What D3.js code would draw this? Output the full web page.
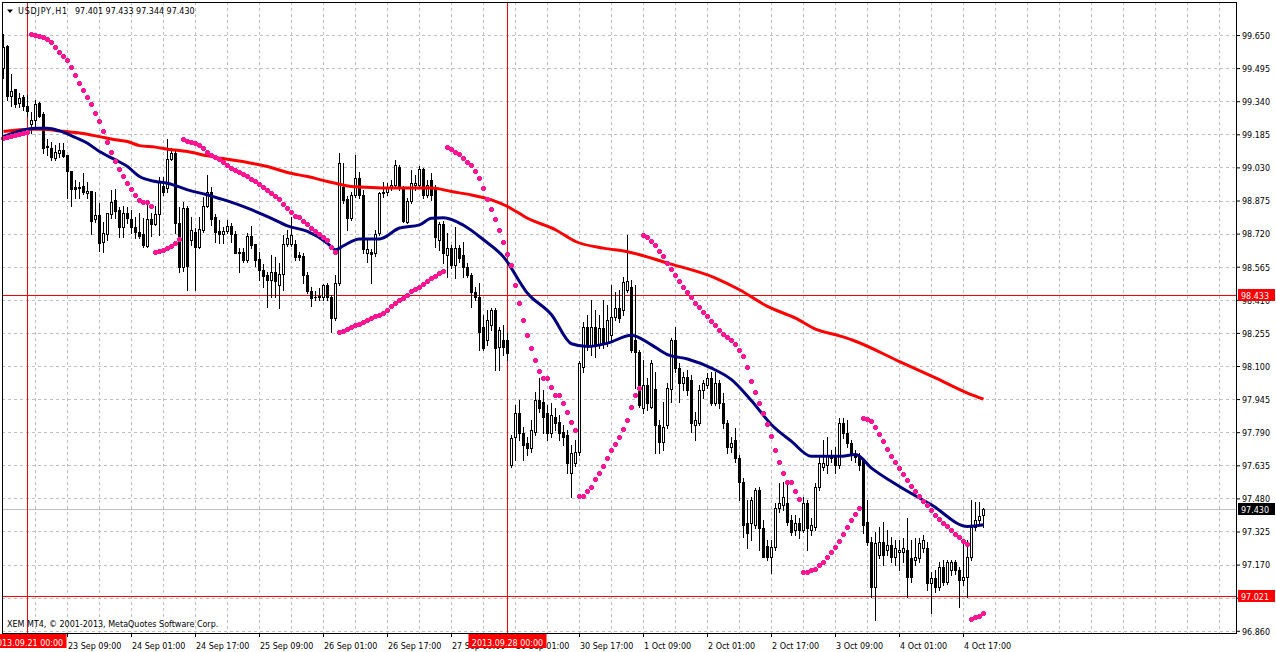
<!DOCTYPE html>
<html><head><meta charset="utf-8">
<script src="https://cdn.jsdelivr.net/npm/d3@7"></script>
<style>
html,body{margin:0;padding:0;background:#fff;}
svg{display:block;}
text{font-family:"DejaVu Sans",sans-serif;font-size:8px;}
</style></head><body>
<svg id="c" width="1276" height="652"></svg>
<script>
const symbolTitle = "USDJPY,H1";
const lastQuote = "97.401 97.433 97.344 97.430";
const copyright = "XEM MT4, \u00A9 2001-2013, MetaQuotes Software Corp.";
const priceTicks = [99.650,99.495,99.340,99.185,99.030,98.875,98.720,98.565,98.410,98.255,98.100,97.945,97.790,97.635,97.480,97.325,97.170,97.015,96.860];
const timeTicks = [[16,"23 Sep 09:00"],[32,"24 Sep 01:00"],[48,"24 Sep 17:00"],[64,"25 Sep 09:00"],[80,"26 Sep 01:00"],[96,"26 Sep 17:00"],[112,"27 Sep 09:00"],[128,"30 Sep 01:00"],[144,"30 Sep 17:00"],[160,"1 Oct 09:00"],[176,"2 Oct 01:00"],[192,"2 Oct 17:00"],[208,"3 Oct 09:00"],[224,"4 Oct 01:00"],[240,"4 Oct 17:00"]];
const separators = [[6,"2013.09.21 00:00"],[126,"2013.09.28 00:00"]];
const hLines = [98.433, 97.021];
const bidPrice = 97.430;

// [open, high, low, close] per H1 bar
const ohlc = [
[99.494,99.653,99.447,99.595],[99.600,99.605,99.346,99.366],[99.366,99.466,99.319,99.388],[99.396,99.396,99.314,99.328],[99.330,99.377,99.314,99.354],
[99.360,99.369,99.299,99.318],[99.318,99.369,99.272,99.294],[99.235,99.288,99.190,99.252],[99.252,99.346,99.213,99.326],[99.330,99.336,99.266,99.272],
[99.279,99.288,99.096,99.123],[99.131,99.162,99.088,99.126],[99.123,99.151,99.065,99.080],[99.076,99.135,99.065,99.104],[99.099,99.143,99.080,99.112],
[99.112,99.143,99.080,99.085],[99.088,99.088,98.889,99.015],[99.014,99.014,98.851,98.929],[98.939,98.971,98.886,98.929],[98.935,98.963,98.886,98.937],
[98.942,99.003,98.904,98.914],[98.909,98.963,98.886,98.921],[98.921,98.921,98.717,98.781],[98.789,98.917,98.776,98.808],[98.808,98.862,98.639,98.678],
[98.683,98.776,98.636,98.722],[98.717,98.816,98.691,98.816],[98.812,98.925,98.792,98.870],[98.878,98.929,98.792,98.828],[98.830,98.845,98.706,98.753],
[98.750,98.847,98.706,98.816],[98.818,98.844,98.769,98.792],[98.789,98.831,98.722,98.750],[98.750,98.800,98.699,98.727],[98.727,98.816,98.699,98.711],
[98.719,98.795,98.655,98.667],[98.664,98.854,98.659,98.789],[98.787,98.816,98.709,98.764],[98.764,98.847,98.761,98.811],[98.811,98.987,98.714,98.963],
[98.945,98.987,98.901,98.914],[98.934,99.162,98.916,99.068],[99.068,99.120,99.065,99.096],[99.098,99.112,98.722,98.770],[98.770,98.845,98.540,98.565],
[98.565,98.870,98.545,98.840],[98.840,98.850,98.457,98.569],[98.691,98.798,98.668,98.738],[98.729,98.747,98.457,98.659],[98.659,98.797,98.653,98.741],
[98.738,98.893,98.729,98.850],[98.850,98.995,98.845,98.917],[98.917,98.940,98.761,98.787],[98.797,98.812,98.683,98.729],[98.733,98.784,98.675,98.719],
[98.717,98.753,98.675,98.733],[98.733,98.784,98.722,98.756],[98.756,98.769,98.683,98.719],[98.719,98.733,98.628,98.631],[98.628,98.653,98.542,98.636],
[98.636,98.652,98.589,98.597],[98.597,98.722,98.588,98.709],[98.709,98.756,98.653,98.667],[98.672,98.672,98.566,98.597],[98.600,98.636,98.503,98.550],
[98.550,98.578,98.472,98.523],[98.527,98.542,98.376,98.503],[98.503,98.620,98.425,98.542],[98.542,98.612,98.425,98.499],[98.477,98.582,98.371,98.532],
[98.532,98.714,98.457,98.671],[98.671,98.738,98.663,98.699],[98.672,98.800,98.663,98.714],[98.672,98.691,98.597,98.612],[98.620,98.636,98.597,98.609],
[98.616,98.630,98.488,98.525],[98.525,98.541,98.441,98.449],[98.449,98.472,98.379,98.418],[98.424,98.453,98.410,98.421],[98.424,98.465,98.410,98.427],
[98.423,98.485,98.410,98.477],[98.480,98.488,98.410,98.423],[98.423,98.433,98.257,98.324],[98.324,98.527,98.317,98.488],[98.488,99.096,98.480,99.050],
[98.940,99.050,98.864,98.878],[98.881,98.897,98.738,98.795],[98.795,98.915,98.784,98.901],[98.901,99.088,98.892,98.979],[98.979,99.010,98.887,98.901],
[98.901,98.925,98.628,98.648],[98.628,98.691,98.589,98.648],[98.636,98.647,98.491,98.624],[98.628,98.738,98.616,98.719],[98.722,98.917,98.714,98.909],
[98.909,98.963,98.892,98.917],[98.917,98.956,98.901,98.940],[98.937,98.971,98.925,98.948],[98.948,99.065,98.939,99.041],[99.034,99.041,98.925,98.933],
[98.933,98.943,98.772,98.780],[98.776,98.887,98.769,98.873],[98.873,99.018,98.864,98.959],[98.948,98.995,98.925,98.956],[98.948,99.037,98.939,99.022],
[99.022,99.028,98.887,98.901],[98.901,98.971,98.892,98.948],[98.971,99.003,98.878,98.901],[98.933,98.948,98.659,98.706],[98.691,98.775,98.644,98.766],
[98.766,98.780,98.583,98.630],[98.621,98.724,98.518,98.653],[98.653,98.667,98.560,98.574],[98.574,98.752,98.513,98.653],[98.653,98.667,98.588,98.607],
[98.621,98.681,98.518,98.564],[98.564,98.583,98.518,98.527],[98.527,98.536,98.377,98.447],[98.447,98.471,98.410,98.424],[98.424,98.490,98.176,98.260],
[98.284,98.340,98.176,98.185],[98.223,98.363,98.199,98.316],[98.293,98.373,98.270,98.363],[98.363,98.373,98.082,98.185],[98.190,98.284,98.082,98.270],
[98.223,98.293,98.153,98.190],[98.223,98.256,98.129,98.162],[97.638,97.778,97.628,97.764],[97.769,97.919,97.661,97.881],[97.881,97.942,97.755,97.788],
[97.788,97.816,97.661,97.731],[97.741,97.769,97.685,97.717],[97.717,97.848,97.699,97.802],[97.792,97.979,97.778,97.942],[97.942,98.045,97.886,97.905],
[97.933,97.989,97.788,97.862],[97.881,97.919,97.755,97.788],[97.788,97.928,97.769,97.872],[97.862,97.905,97.802,97.834],[97.839,97.872,97.755,97.788],
[97.792,97.825,97.731,97.769],[97.778,97.802,97.600,97.647],[97.600,97.731,97.488,97.694],[97.647,97.755,97.633,97.699],[97.699,98.125,97.685,98.115],
[98.096,98.307,98.073,98.284],[98.284,98.340,98.176,98.199],[98.199,98.410,98.153,98.284],[98.284,98.363,98.143,98.199],[98.199,98.340,98.185,98.279],
[98.279,98.410,98.185,98.209],[98.209,98.387,98.195,98.316],[98.246,98.480,98.223,98.330],[98.330,98.447,98.316,98.373],[98.373,98.457,98.307,98.326],
[98.363,98.518,98.340,98.494],[98.457,98.714,98.447,98.499],[98.471,98.504,98.167,98.176],[98.223,98.480,97.998,98.167],[98.167,98.176,97.909,97.919],
[97.905,98.129,97.881,98.012],[98.012,98.045,97.895,97.928],[97.909,98.129,97.905,98.115],[97.993,98.073,97.694,97.825],[97.825,97.848,97.694,97.745],
[97.745,97.933,97.708,97.816],[97.825,98.021,97.811,97.998],[97.993,98.233,97.933,98.223],[98.223,98.284,98.073,98.092],[98.092,98.115,97.933,98.021],
[98.021,98.073,97.989,98.050],[98.050,98.082,97.965,97.989],[98.036,98.059,97.792,97.834],[97.825,97.886,97.755,97.848],[97.834,98.012,97.825,97.989],
[97.989,98.036,97.951,98.021],[98.012,98.068,97.998,98.045],[98.045,98.073,97.919,97.928],[97.928,98.073,97.919,98.021],[98.021,98.036,97.905,97.928],
[97.928,97.975,97.811,97.834],[97.834,97.848,97.694,97.722],[97.722,97.769,97.699,97.741],[97.755,97.811,97.652,97.671],[97.671,97.685,97.474,97.558],
[97.558,97.577,97.301,97.357],[97.366,97.474,97.249,97.320],[97.366,97.488,97.287,97.474],[97.357,97.530,97.343,97.521],[97.521,97.535,97.240,97.343],
[97.343,97.380,97.207,97.207],[97.259,97.287,97.193,97.207],[97.207,97.287,97.132,97.254],[97.254,97.460,97.240,97.437],[97.437,97.554,97.418,97.460],
[97.451,97.558,97.427,97.488],[97.460,97.554,97.357,97.371],[97.380,97.404,97.310,97.324],[97.334,97.404,97.310,97.366],[97.366,97.390,97.296,97.334],
[97.334,97.488,97.324,97.460],[97.460,97.474,97.240,97.343],[97.334,97.390,97.310,97.357],[97.348,97.554,97.334,97.535],[97.535,97.685,97.521,97.647],
[97.628,97.755,97.614,97.647],[97.638,97.769,97.600,97.685],[97.685,97.708,97.652,97.671],[97.685,97.722,97.600,97.638],[97.638,97.858,97.624,97.834],
[97.834,97.858,97.764,97.788],[97.788,97.848,97.722,97.741],[97.741,97.755,97.661,97.685],[97.685,97.708,97.652,97.675],[97.675,97.694,97.614,97.638],
[97.661,97.671,97.320,97.357],[97.371,97.474,97.263,97.277],[97.277,97.301,97.020,97.067],[97.067,97.324,96.912,97.273],[97.217,97.348,97.203,97.277],
[97.277,97.371,97.170,97.217],[97.240,97.334,97.217,97.263],[97.263,97.301,97.184,97.207],[97.207,97.287,97.170,97.249],[97.231,97.287,97.146,97.240],
[97.231,97.296,97.184,97.249],[97.240,97.390,97.020,97.114],[97.203,97.287,97.090,97.114],[97.193,97.296,97.170,97.207],[97.203,97.296,97.184,97.273],
[97.249,97.310,97.231,97.287],[97.249,97.277,97.053,97.086],[97.086,97.137,96.945,97.109],[97.109,97.146,97.044,97.067],[97.067,97.184,97.053,97.160],
[97.160,97.193,97.076,97.090],[97.090,97.193,97.081,97.184],[97.146,97.193,97.123,97.184],[97.184,97.193,97.128,97.146],[97.146,97.160,96.973,97.100],
[97.100,97.273,97.076,97.114],[97.114,97.287,97.020,97.207],[97.207,97.474,97.193,97.348],[97.348,97.465,97.334,97.380],[97.380,97.465,97.366,97.399],
[97.401,97.433,97.344,97.430]
];

// Parabolic SAR, one value per bar
const sar = [
99.168,99.173,99.178,99.182,99.187,99.192,99.196,
99.653,99.649,99.644,99.639,99.630,99.616,99.594,99.571,99.551,99.532,99.499,99.462,99.424,99.391,99.359,99.326,99.284,99.246,99.199,99.148,99.103,99.059,99.022,98.989,98.956,98.928,98.900,98.877,98.867,98.867,98.849,
98.636,98.639,98.644,98.652,98.663,98.678,98.694,
99.163,99.154,99.148,99.143,99.134,99.120,99.104,99.090,99.078,99.068,99.054,99.043,99.026,99.018,99.010,99.000,98.990,98.976,98.967,98.953,98.940,98.925,98.912,98.897,98.881,98.859,98.841,98.820,98.803,98.800,98.781,98.766,98.748,98.733,98.719,98.703,98.691,98.659,98.635,
98.259,98.266,98.274,98.282,98.290,98.299,98.306,98.315,98.324,98.332,98.341,98.349,98.362,98.379,98.395,98.407,98.419,98.433,98.449,98.460,98.472,98.485,98.497,98.512,98.521,98.535,98.547,
99.125,99.117,99.103,99.093,99.076,99.057,99.042,99.014,98.980,98.933,98.881,98.834,98.788,98.738,98.680,98.624,98.574,98.479,98.395,98.315,98.245,98.184,98.129,98.076,98.044,98.044,98.003,97.965,97.965,97.927,97.883,97.840,97.802,
97.489,97.493,97.513,97.533,97.571,97.599,97.634,97.669,97.705,97.736,97.767,97.805,97.847,97.906,97.965,97.997,
98.714,98.706,98.686,98.667,98.639,98.613,98.582,98.554,98.526,98.496,98.472,98.446,98.421,98.397,98.374,98.355,98.332,98.312,98.292,98.270,98.251,98.234,98.220,98.201,98.176,98.145,98.096,98.032,97.976,97.927,97.880,97.828,97.770,97.705,97.650,97.599,97.557,97.557,97.516,97.479,
97.136,97.136,97.146,97.150,97.167,97.182,97.206,97.229,97.253,97.279,97.315,97.344,97.377,97.408,97.435,
97.856,97.852,97.844,97.814,97.781,97.747,97.711,97.680,97.649,97.622,97.594,97.564,97.536,97.513,97.493,97.469,97.447,97.424,97.404,97.385,97.365,97.349,97.330,97.313,97.298,97.282,97.268,
96.916,96.923,96.931,96.944
];

// moving averages: [bar index, value]
const maSlow = [[0,99.198],[7,99.209],[10,99.209],[14,99.201],[17,99.195],[21,99.185],[24,99.174],[28,99.159],[31,99.151],[34,99.132],[38,99.125],[41,99.115],[46,99.104],[51,99.084],[56,99.068],[61,99.053],[66,99.034],[71,99.006],[76,98.987],[81,98.964],[84,98.951],[87,98.940],[92,98.936],[97,98.933],[102,98.933],[107,98.933],[112,98.917],[117,98.901],[122,98.878],[126,98.847],[131,98.792],[138,98.738],[143,98.683],[150,98.652],[156,98.635],[166,98.582],[178,98.512],[184,98.457],[191,98.379],[198,98.324],[203,98.273],[209,98.241],[212,98.223],[224,98.121],[233,98.044],[241,97.973],[245,97.945]];
const maFast = [[0,99.174],[4,99.201],[8,99.213],[11,99.213],[14,99.201],[18,99.170],[21,99.143],[24,99.104],[28,99.065],[31,99.034],[34,98.987],[38,98.964],[41,98.956],[46,98.925],[51,98.901],[56,98.873],[61,98.839],[66,98.800],[71,98.756],[76,98.730],[81,98.675],[83,98.644],[85,98.663],[89,98.695],[94,98.695],[99,98.746],[104,98.761],[107,98.792],[110,98.794],[115,98.759],[120,98.691],[125,98.611],[131,98.441],[137,98.340],[142,98.204],[146,98.191],[151,98.207],[157,98.244],[162,98.199],[166,98.153],[171,98.133],[177,98.090],[182,98.036],[187,97.937],[192,97.825],[197,97.747],[202,97.677],[209,97.677],[213,97.685],[217,97.622],[224,97.536],[232,97.450],[241,97.349],[245,97.357]];

if (ohlc.length !== 246) throw new Error("ohlc length " + ohlc.length);
if (sar.length !== 246) throw new Error("sar length " + sar.length);

const L = 2, R = 1236, T = 2, B = 633;
const x = d3.scaleLinear().domain([0, 245]).range([3, 983]);
const y = d3.scaleLinear().domain([96.860, 99.650]).range([630.8, 35]);
const snap = v => Math.round(v) + 0.5;
const svg = d3.select("#c");

// grid
const grid = svg.append("g").attr("stroke", "#c0c0c0").attr("stroke-dasharray", "3,3").attr("shape-rendering", "crispEdges");
grid.selectAll("line.h").data(priceTicks).join("line").attr("class", "h")
  .attr("x1", L).attr("x2", R).attr("y1", d => snap(y(d))).attr("y2", d => snap(y(d)));
grid.selectAll("line.v").data(d3.range(8, 305, 8)).join("line").attr("class", "v")
  .attr("x1", d => x(d) + 0.5).attr("x2", d => x(d) + 0.5).attr("y1", T).attr("y2", B);

// bid line
svg.append("line").attr("x1", L).attr("x2", R).attr("y1", snap(y(bidPrice))).attr("y2", snap(y(bidPrice)))
  .attr("stroke", "#c0c0c0").attr("shape-rendering", "crispEdges");

// user lines
svg.append("g").selectAll("line").data(hLines).join("line")
  .attr("x1", L).attr("x2", R).attr("y1", d => snap(y(d))).attr("y2", d => snap(y(d)))
  .attr("stroke", "#ff0000").attr("shape-rendering", "crispEdges");
svg.append("g").selectAll("line").data(separators).join("line")
  .attr("x1", d => x(d[0]) + 0.5).attr("x2", d => x(d[0]) + 0.5).attr("y1", T).attr("y2", B)
  .attr("stroke", "#ff0000").attr("shape-rendering", "crispEdges");

// candles
const cg = svg.append("g").attr("shape-rendering", "crispEdges");
const bars = ohlc.map((d, i) => ({ i, o: d[0], h: d[1], l: d[2], c: d[3] }));
cg.selectAll("rect.w").data(bars).join("rect").attr("class", "w")
  .attr("x", d => x(d.i)).attr("width", 1)
  .attr("y", d => Math.round(y(d.h))).attr("height", d => Math.max(1, Math.round(y(d.l)) - Math.round(y(d.h)) + 1))
  .attr("fill", "#000");
function bodyTop(d) { return Math.round(y(Math.max(d.o, d.c))); }
function bodyH(d) { return Math.max(1, Math.round(y(Math.min(d.o, d.c))) - bodyTop(d) + 1); }
cg.selectAll("rect.b").data(bars).join("rect").attr("class", "b")
  .attr("x", d => x(d.i) - 1).attr("width", 3)
  .attr("y", bodyTop).attr("height", bodyH).attr("fill", "#000");
cg.selectAll("rect.in").data(bars.filter(d => d.c > d.o && bodyH(d) > 2)).join("rect").attr("class", "in")
  .attr("x", d => x(d.i)).attr("width", 1)
  .attr("y", d => bodyTop(d) + 1).attr("height", d => bodyH(d) - 2).attr("fill", "#fff");

// moving averages
const line = d3.line().x(d => x(d[0]) + 0.5).y(d => y(d[1])).curve(d3.curveMonotoneX);
svg.append("path").datum(maSlow).attr("d", line).attr("fill", "none").attr("stroke", "#ff0000").attr("stroke-width", 3);
svg.append("path").datum(maFast).attr("d", line).attr("fill", "none").attr("stroke", "#000080").attr("stroke-width", 3);

// parabolic SAR
const sg = svg.append("g").attr("fill", "#ff1493").attr("shape-rendering", "crispEdges");
sg.selectAll("path").data(sar).join("path")
  .attr("d", (v, i) => {
    const cx = x(i), cy = Math.round(y(v));
    return `M${cx-2},${cy-1}h5v3h-5z M${cx-1},${cy-2}h3v5h-3z`;
  });

// frame
svg.append("rect").attr("x", L + 0.5).attr("y", T + 0.5).attr("width", R - L).attr("height", B - T)
  .attr("fill", "none").attr("stroke", "#000").attr("shape-rendering", "crispEdges");

// price axis (the 97.015 label sits fully under the 97.021 tag in the reference)
const yAxis = d3.axisRight(y).tickValues(priceTicks)
  .tickFormat(d => Math.abs(d - hLines[1]) < 0.01 ? "" : d3.format(".3f")(d)).tickSize(4).tickPadding(2);
const ya = svg.append("g").attr("transform", `translate(${R},0)`).call(yAxis);
ya.select(".domain").remove();
ya.selectAll("text").attr("font-family", "DejaVu Sans").attr("font-size", 8).attr("fill", "#000").attr("dy", "0.42em");
ya.selectAll("line").attr("stroke", "#000");

// time axis
const tickMap = new Map(timeTicks);
const xAxis = d3.axisBottom(x).tickValues(timeTicks.map(d => d[0])).tickFormat(d => tickMap.get(d)).tickSize(4).tickPadding(6);
const xa = svg.append("g").attr("transform", `translate(0,${B})`).call(xAxis);
xa.select(".domain").remove();
xa.selectAll("text").attr("font-family", "DejaVu Sans").attr("font-size", 8).attr("fill", "#000").attr("text-anchor", "start").attr("x", 0.5);
xa.selectAll("line").attr("stroke", "#000");

// separator labels
const sl = svg.append("g").selectAll("g").data(separators).join("g");
sl.append("rect").attr("x", d => x(d[0]) + 0.5 - 39).attr("y", 634).attr("width", 78).attr("height", 14).attr("fill", "#ff0000");
sl.append("text").attr("x", d => x(d[0]) + 0.5).attr("y", 645.5).attr("text-anchor", "middle").attr("fill", "#fff").text(d => d[1]);

// right price labels
const tags = [[hLines[0], "#ff0000"], [bidPrice, "#000000"], [hLines[1], "#ff0000"]];
const tg = svg.append("g").selectAll("g").data(tags).join("g");
tg.append("rect").attr("x", 1238).attr("y", d => Math.round(y(d[0])) - 6).attr("width", 37).attr("height", 12).attr("fill", d => d[1]);
tg.append("text").attr("x", 1241).attr("y", d => Math.round(y(d[0])) + 3.5).attr("fill", "#fff").text(d => d[0].toFixed(3));

// title
svg.append("path").attr("d", "M7,9.5h6l-3,3.5z").attr("fill", "#000");
svg.append("text").attr("x", 18).attr("y", 14).attr("fill", "#000").attr("letter-spacing", "0.8").text(symbolTitle);
svg.append("text").attr("x", 75).attr("y", 14).attr("fill", "#000").text(lastQuote);
svg.append("text").attr("x", 7).attr("y", 627).attr("fill", "#000").text(copyright);
</script>
</body></html>
